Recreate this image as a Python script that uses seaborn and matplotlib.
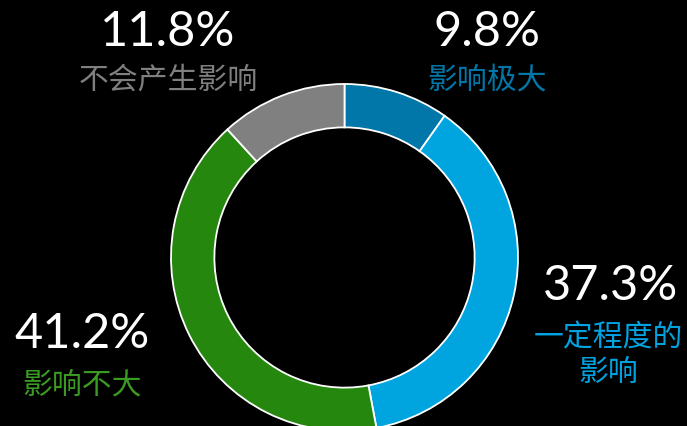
import matplotlib
matplotlib.use("Agg")
import matplotlib.pyplot as plt
import seaborn as sns

# data
categories = ['影响极大', '一定程度的\n影响', '影响不大', '不会产生影响']
shares = [9.8, 37.3, 41.2, 11.8]
pct_labels = ['9.8%', '37.3%', '41.2%', '11.8%']

wedge_colors = ['#0077A8', '#00A5E0', '#26870F', '#808080']
text_colors = ['#0077A8', '#00A2DF', '#3A9A22', '#7F7F7F']

sns.set_theme(style="white")
plt.rcParams['font.family'] = ['Noto Sans CJK SC', 'DejaVu Sans']

W, H = 687, 427
fig = plt.figure(figsize=(W / 100, H / 100), dpi=100, facecolor='black')
ax = fig.add_axes([0, 0, 1, 1])
ax.set_facecolor('black')

# donut, drawn in pixel-like coordinates
cx, cy, r = 344.5, H - 258.5, 173.5
ax.pie(shares, colors=wedge_colors, startangle=90, counterclock=False,
       center=(cx, cy), radius=r,
       wedgeprops=dict(width=r * 0.25, edgecolor='white', linewidth=1.3))

ax.set_xlim(0, W)
ax.set_ylim(0, H)
ax.set_aspect('equal')
ax.axis('off')

# label positions (pct centre, name centre) in pixels from the top-left
label_pos = [
    ((487, 32), (487, 80)),
    ((611, 286), (608, 355)),
    ((82, 334), (82, 385)),
    ((168, 32), (168, 80)),
]

num_font = ['Lato', 'DejaVu Sans']
for i, name in enumerate(categories):
    (px, py), (nx, ny) = label_pos[i]
    ax.text(px, H - py, pct_labels[i], color='white', fontsize=35,
            family=num_font, ha='center', va='center')
    ax.text(nx, H - ny, name, color=text_colors[i], fontsize=21.5,
            family=['Noto Sans CJK SC', 'DejaVu Sans'],
            ha='center', va='center', linespacing=1.15)

fig.savefig('out.png', dpi=100, facecolor='black')
